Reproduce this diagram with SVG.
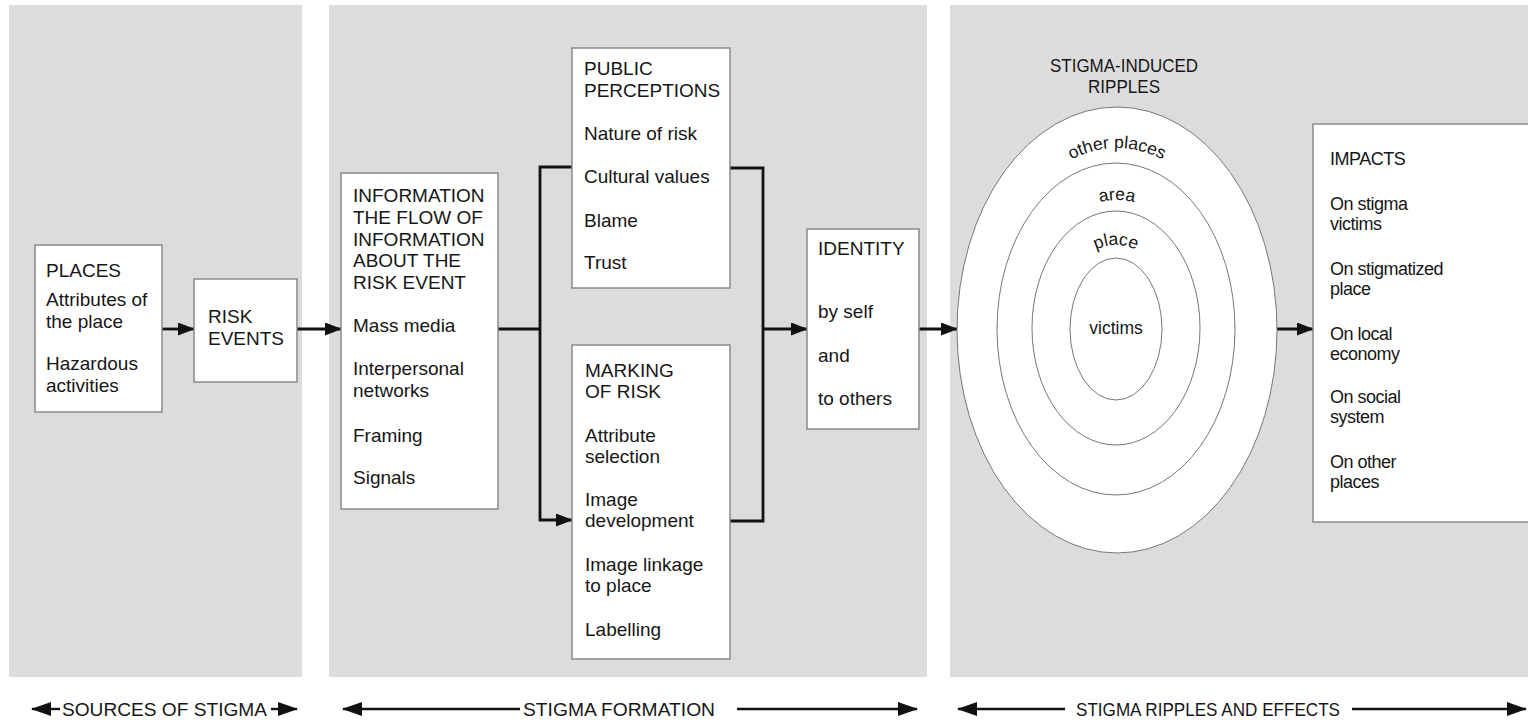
<svg xmlns="http://www.w3.org/2000/svg" width="1528" height="722" viewBox="0 0 1528 722">
<style>
.panel{fill:#dcdcdc}
.box{fill:#fff;stroke:#8a8a8a;stroke-width:1.5}
.ring{fill:#fff;stroke:#777;stroke-width:1}
text{font-family:"Liberation Sans",Arial,sans-serif;font-size:19px;fill:#161616}
.rt{font-size:18px;letter-spacing:-0.5px}
.cl{font-size:17.5px}
.con{fill:none;stroke:#111;stroke-width:2.8}
.bot{fill:none;stroke:#111;stroke-width:2.4}
</style>
<defs>
<marker id="ah" markerUnits="userSpaceOnUse" markerWidth="17" markerHeight="13" refX="16" refY="6.5" orient="auto">
<path d="M0,0 L17,6.5 L0,13 z" fill="#111"/>
</marker>
<marker id="ahs" markerUnits="userSpaceOnUse" markerWidth="20" markerHeight="14" refX="19" refY="7" orient="auto-start-reverse">
<path d="M0,0 L20,7 L0,14 z" fill="#111"/>
</marker>
<path id="arcOther" d="M986,330 A131,182 0 0,1 1248,330"/>
<path id="arcArea" d="M1024,330 A93,130 0 0,1 1210,330"/>
<path id="arcPlace" d="M1055,330 A61,85 0 0,1 1177,330"/>
</defs>
<rect width="1528" height="722" fill="#fff"/>
<g id="panels">
<rect class="panel" x="9" y="5" width="293" height="672"/>
<rect class="panel" x="329" y="5" width="598" height="672"/>
<rect class="panel" x="950" y="5" width="578" height="672"/>
</g>
<g id="connectors">
<line class="con" x1="162" y1="329" x2="194" y2="329" marker-end="url(#ah)"/>
<line class="con" x1="297" y1="329" x2="341" y2="329" marker-end="url(#ah)"/>
<line class="con" x1="498" y1="329" x2="540" y2="329"/>
<path class="con" d="M572,167 H540 V520 H572" marker-end="url(#ah)"/>
<path class="con" d="M730,168 H763 V521 H730"/>
<line class="con" x1="763" y1="329" x2="807" y2="329" marker-end="url(#ah)"/>
<line class="con" x1="919" y1="329" x2="957" y2="329" marker-end="url(#ah)"/>
<line class="con" x1="1277" y1="329" x2="1313" y2="329" marker-end="url(#ah)"/>
<line class="bot" x1="32" y1="709" x2="60" y2="709" marker-start="url(#ahs)"/>
<line class="bot" x1="271" y1="709" x2="297" y2="709" marker-end="url(#ahs)"/>
<line class="bot" x1="343" y1="709" x2="520" y2="709" marker-start="url(#ahs)"/>
<line class="bot" x1="737" y1="709" x2="917" y2="709" marker-end="url(#ahs)"/>
<line class="bot" x1="958" y1="709" x2="1065" y2="709" marker-start="url(#ahs)"/>
<line class="bot" x1="1352" y1="709" x2="1526" y2="709" marker-end="url(#ahs)"/>
</g>
<g id="places">
<rect class="box" x="35" y="245" width="127" height="167"/>
<text x="46" y="277">PLACES</text>
<text x="46" y="306">Attributes of</text>
<text x="46" y="328">the place</text>
<text x="46" y="370">Hazardous</text>
<text x="46" y="392">activities</text>
</g>
<g id="risk-events">
<rect class="box" x="194" y="279" width="103" height="103"/>
<text x="208" y="323">RISK</text>
<text x="208" y="345">EVENTS</text>
</g>
<g id="information">
<rect class="box" x="341" y="173" width="157" height="336"/>
<text x="353" y="202">INFORMATION</text>
<text x="353" y="224">THE FLOW OF</text>
<text x="353" y="246">INFORMATION</text>
<text x="353" y="267">ABOUT THE</text>
<text x="353" y="289">RISK EVENT</text>
<text x="353" y="332">Mass media</text>
<text x="353" y="375">Interpersonal</text>
<text x="353" y="397">networks</text>
<text x="353" y="442">Framing</text>
<text x="353" y="484">Signals</text>
</g>
<g id="public-perceptions">
<rect class="box" x="572" y="48" width="158" height="240"/>
<text x="584" y="75">PUBLIC</text>
<text x="584" y="97">PERCEPTIONS</text>
<text x="584" y="140">Nature of risk</text>
<text x="584" y="183">Cultural values</text>
<text x="584" y="227">Blame</text>
<text x="584" y="269">Trust</text>
</g>
<g id="marking-of-risk">
<rect class="box" x="572" y="345" width="158" height="314"/>
<text x="585" y="377">MARKING</text>
<text x="585" y="398">OF RISK</text>
<text x="585" y="442">Attribute</text>
<text x="585" y="463">selection</text>
<text x="585" y="506">Image</text>
<text x="585" y="527">development</text>
<text x="585" y="571">Image linkage</text>
<text x="585" y="592">to place</text>
<text x="585" y="636">Labelling</text>
</g>
<g id="identity">
<rect class="box" x="807" y="229" width="112" height="200"/>
<text x="818" y="255">IDENTITY</text>
<text x="818" y="318">by self</text>
<text x="818" y="362">and</text>
<text x="818" y="405">to others</text>
</g>
<g id="ripples">
<text x="1124" y="72" text-anchor="middle" font-size="18" textLength="148" lengthAdjust="spacingAndGlyphs">STIGMA-INDUCED</text>
<text x="1124" y="93" text-anchor="middle" font-size="18" textLength="72" lengthAdjust="spacingAndGlyphs">RIPPLES</text>
<ellipse class="ring" cx="1117" cy="330" rx="160" ry="223"/>
<ellipse class="ring" cx="1116" cy="329" rx="119" ry="166"/>
<ellipse class="ring" cx="1116" cy="328" rx="84" ry="117"/>
<ellipse class="ring" cx="1116" cy="329" rx="46" ry="71"/>
<text class="cl"><textPath href="#arcOther" startOffset="50%" text-anchor="middle">other places</textPath></text>
<text class="cl"><textPath href="#arcArea" startOffset="50%" text-anchor="middle">area</textPath></text>
<text class="cl"><textPath href="#arcPlace" startOffset="50%" text-anchor="middle">place</textPath></text>
<text class="cl" x="1116" y="334" text-anchor="middle">victims</text>
</g>
<g id="impacts">
<rect class="box" x="1313" y="124" width="230" height="398"/>
<text class="rt" x="1330" y="165">IMPACTS</text>
<text class="rt" x="1330" y="210">On stigma</text>
<text class="rt" x="1330" y="230">victims</text>
<text class="rt" x="1330" y="275">On stigmatized</text>
<text class="rt" x="1330" y="295">place</text>
<text class="rt" x="1330" y="340">On local</text>
<text class="rt" x="1330" y="360">economy</text>
<text class="rt" x="1330" y="403">On social</text>
<text class="rt" x="1330" y="423">system</text>
<text class="rt" x="1330" y="468">On other</text>
<text class="rt" x="1330" y="488">places</text>
</g>
<g id="phase-labels">
<text x="62" y="716" textLength="205" lengthAdjust="spacingAndGlyphs">SOURCES OF STIGMA</text>
<text x="523" y="716" textLength="192" lengthAdjust="spacingAndGlyphs">STIGMA FORMATION</text>
<text x="1076" y="716" textLength="264" lengthAdjust="spacingAndGlyphs">STIGMA RIPPLES AND EFFECTS</text>
</g>
</svg>
